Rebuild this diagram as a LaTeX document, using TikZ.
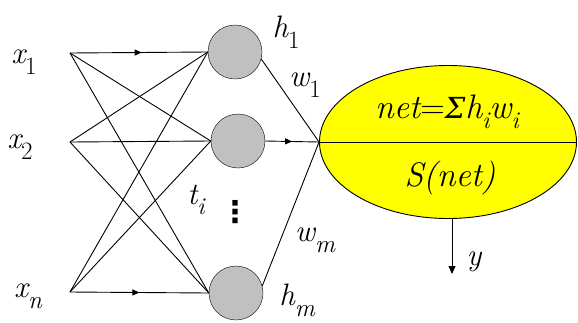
\documentclass[tikz,border=0pt]{standalone}
\usepackage{fontspec}
\newfontfamily\djv{DejaVu Sans}
\newfontfamily\djs{DejaVu Serif}
\usetikzlibrary{shapes.geometric,decorations.markings,arrows.meta}
\newcommand{\sublab}[2]{{\itshape #1}\raisebox{-0.35em}{\fontsize{25}{25}\selectfont #2}}
\newcommand{\isub}[2]{{\itshape #1}\raisebox{-0.3em}{\fontsize{24}{24}\selectfont\itshape #2}}
\begin{document}
\begin{tikzpicture}[x=1pt,y=-1pt,
  lbl/.style={inner sep=0pt,font=\fontsize{31}{33}\selectfont},
  big/.style={inner sep=0pt,font=\fontsize{34}{36}\selectfont},
  hid/.style={circle,draw,fill={rgb,255:red,192;green,192;blue,192},minimum size=54pt,inner sep=0pt},
  wire/.style={draw,line width=0.9pt},
  midarrow/.style={postaction={decorate},decoration={markings,mark=at position #1 with {\arrow{Triangle[length=7pt,width=6pt]}}}}
]
\useasboundingbox (0,0) rectangle (578,322);
% output unit
\node[ellipse,draw,line width=0.9pt,fill={rgb,255:red,255;green,255;blue,0},minimum width=257pt,minimum height=153pt,inner sep=0pt] (S) at (448,142) {};
\draw[wire] (S.west) -- (S.east);
\node[big] (net) at (447,112) {{\itshape net}={\djs\itshape\fontsize{29}{30}\selectfont Σ}\isub{h}{i}\isub{w}{i}};
\node[big] (snet) at (450,178) {{\itshape S(net)}};
% hidden
\node[hid] (h1) at (235,52) {};
\node[hid] (h2) at (238,141) {};
\node[hid] (hm) at (236,293) {};
% inputs
\coordinate (i1) at (70,53);
\coordinate (i2) at (70,142);
\coordinate (in) at (70,292);
\node[lbl] (x1) at (24,62) {\sublab{x}{1}};
\node[lbl] (x2) at (20,147) {\sublab{x}{2}};
\node[lbl] (xn) at (28,296) {\sublab{x}{\itshape n}};
% connections
\draw[wire,midarrow=0.52] (i1) -- (h1.west);
\draw[wire] (i1) -- (h2.west);
\draw[wire] (i1) -- (hm.west);
\draw[wire] (i2) -- (h1.west);
\draw[wire] (i2) -- (h2.west);
\draw[wire] (i2) -- (hm.west);
\draw[wire] (in) -- (h1.west);
\draw[wire] (in) -- (h2.west);
\draw[wire,midarrow=0.5] (in) -- (hm.west);
\draw[wire] (h1.-15) -- (S.west);
\draw[wire,midarrow=0.5] (h2.east) -- (S.west);
\draw[wire] (hm.15) -- (S.west);
\coordinate (yend) at (452,274);
\draw[wire,-{Triangle[length=8pt,width=7pt]}] (452,218) -- (yend);
% labels
\node[lbl] (lh1) at (286,32) {\sublab{h}{1}};
\node[lbl] (lw1) at (305,85) {\sublab{w}{1}};
\node[lbl] (lwm) at (315,240) {\sublab{w}{\itshape m}};
\node[lbl] (lhm) at (297,300) {\sublab{h}{\itshape m}};
\node[lbl] (lti) at (196,200) {\isub{t}{i}};
\node[lbl] (ly) at (474,262) {{\itshape y}};
\node[inner sep=0pt,font=\djv\fontsize{30}{30}\selectfont\bfseries] (dots) at (235,212) {⋮};
\end{tikzpicture}
\end{document}
